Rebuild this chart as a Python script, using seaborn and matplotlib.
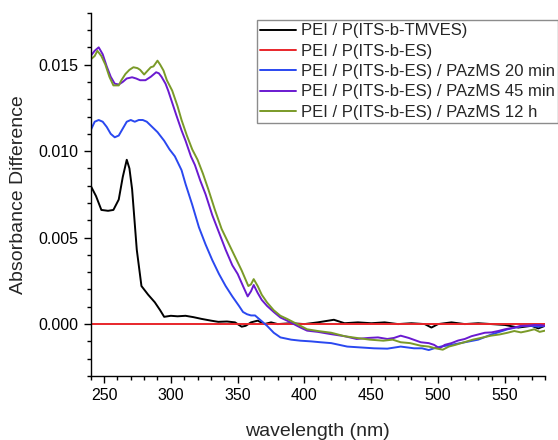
import matplotlib
matplotlib.use("Agg")
import matplotlib.pyplot as plt
import seaborn as sns
import pandas as pd
from matplotlib.ticker import MultipleLocator, FormatStrFormatter

# ---------------- data ----------------
labels = [
    "PEI / P(ITS-b-TMVES)",
    "PEI / P(ITS-b-ES)",
    "PEI / P(ITS-b-ES) / PAzMS 20 min",
    "PEI / P(ITS-b-ES) / PAzMS 45 min",
    "PEI / P(ITS-b-ES) / PAzMS 12 h",
]
colors = ["#000000", "#e8262b", "#2a48f0", "#6a1ad0", "#7a9a28"]

black_w = [240, 244, 248, 253, 257, 261, 264, 267, 269, 271, 274.5, 278, 283, 288, 292, 295, 300, 305, 311,
           317, 323, 330, 335.5, 342, 348, 353, 356, 360, 365, 370, 375, 380, 390, 400, 410, 422, 430, 440,
           450, 460, 470, 480, 490, 495, 500, 510, 520, 530, 540, 550, 560, 570, 575, 580]
black_v = [0.0080, 0.0074, 0.0066, 0.00655, 0.0066, 0.0072, 0.0085, 0.0095, 0.0090, 0.0078, 0.0043, 0.0022,
           0.0017, 0.00126, 0.0008, 0.00042, 0.00048, 0.00045, 0.00048, 0.0004, 0.0003, 0.0002, 0.00013,
           0.00015, 0.0001, -0.00015, -0.0001, 0.0001, 0.0002, 0.0, 0.0001, 0.0, 0.00005, 0.0, 0.0001,
           0.00025, 0.00005, 0.0001, 0.00005, 0.0001, 0.0, 0.00005, 0.0, -0.0002, 0.0, 0.0001, 0.0, 0.00005,
           0.0, -0.00005, -0.0002, -0.0001, -0.00025, -0.0001]

red_w = [240, 580]
red_v = [0.0, 0.0]

blue_w = [240, 243, 246, 249, 252, 255, 258, 261, 264, 267, 270, 273, 276, 279, 282, 286, 290, 295, 299, 303,
          308, 311, 316, 321, 326, 331, 336, 341, 346, 351, 354, 357, 360, 363, 366, 369, 372, 377, 382, 390,
          397, 405, 412, 420, 432, 442, 452, 462, 472, 482, 488, 493, 497, 502, 510, 520, 530, 540, 546, 552,
          558, 564, 569, 575, 580]
blue_v = [0.0112, 0.0117, 0.0118, 0.0117, 0.0114, 0.0110, 0.0108, 0.0109, 0.0113, 0.0117, 0.0118, 0.0117,
          0.0118, 0.0118, 0.0117, 0.0114, 0.0111, 0.0106, 0.0101, 0.0097, 0.0089, 0.0081, 0.0069, 0.0056,
          0.0046, 0.0037, 0.0029, 0.0022, 0.0016, 0.00105, 0.0007, 0.00057, 0.0005, 0.0005, 0.0003, 0.0001,
          -0.0001, -0.0005, -0.00077, -0.0009, -0.00096, -0.0010, -0.00105, -0.0011, -0.0013, -0.00135,
          -0.0014, -0.00142, -0.0013, -0.0014, -0.0014, -0.0015, -0.0014, -0.0013, -0.0012, -0.00105, -0.0009,
          -0.0006, -0.00045, -0.0003, -0.0002, -0.0001, -0.0001, -0.00015, -0.0001]

purple_w = [240, 243, 246, 249, 252, 255, 258, 261, 264, 267, 271, 274, 277, 281, 285, 289, 291, 293, 296, 298,
            301, 304, 308, 311, 315, 318, 322, 326, 331, 336, 341, 346, 350, 354, 357.5, 360, 362, 365, 368,
            372, 377, 382, 387, 392, 397, 402, 410, 419, 430, 439, 448, 455, 462, 467, 472, 478, 487, 493, 497,
            501, 505, 510, 515, 520, 525, 530, 535, 540, 545, 550, 557, 562, 567, 572, 577, 580]
purple_v = [0.0155, 0.0158, 0.0160, 0.0156, 0.0149, 0.0143, 0.0139, 0.01385, 0.0140, 0.0142, 0.01427, 0.0142,
            0.0141, 0.0141, 0.0143, 0.01456, 0.0145, 0.0143, 0.0139, 0.0135, 0.0128, 0.0121, 0.0112, 0.0106,
            0.0097, 0.0092, 0.0083, 0.0075, 0.0063, 0.0053, 0.0043, 0.0034, 0.0029, 0.0022, 0.0016, 0.0019,
            0.00226, 0.0018, 0.0014, 0.00105, 0.0007, 0.00038, 0.0002, 0.0, -0.0002, -0.00038, -0.00045,
            -0.00057, -0.0007, -0.00086, -0.0008, -0.00077, -0.00086, -0.0008, -0.00067, -0.0008, -0.00105,
            -0.0011, -0.0012, -0.0014, -0.0012, -0.0011, -0.00095, -0.00086, -0.0007, -0.0006, -0.0005,
            -0.00048, -0.0004, -0.0003, -0.0002, -0.0001, -0.0001, -0.00005, -0.00006, -0.0001]

green_w = [240, 243, 245, 248, 251, 254, 257, 261, 263, 266, 269, 272, 275, 277, 280, 282, 285, 287, 290, 292,
           294.5, 297, 301, 305, 308, 312, 316, 320, 324, 328, 333, 338, 343, 348, 353, 358, 360, 362, 365, 368,
           372, 377, 382, 387, 392, 397, 402, 410, 420, 430, 439, 449, 459, 466, 472, 479, 487, 493, 498, 503.5,
           508, 513, 519.5, 526, 532, 539.5, 546, 552, 557, 562, 567, 572, 576, 580]
green_v = [0.0153, 0.0155, 0.0158, 0.0155, 0.0150, 0.0143, 0.0138, 0.0138, 0.0141, 0.01446, 0.0147, 0.01485,
           0.0148, 0.0147, 0.01443, 0.0146, 0.01485, 0.0149, 0.01523, 0.0150, 0.01466, 0.0141, 0.0135, 0.0126,
           0.0118, 0.0109, 0.0101, 0.0095, 0.0087, 0.0078, 0.0066, 0.0055, 0.0047, 0.0039, 0.0031, 0.0022,
           0.0023, 0.0026, 0.0022, 0.0017, 0.00125, 0.0008, 0.00048, 0.0003, 0.0001, -0.0001, -0.0003,
           -0.0004, -0.0005, -0.0007, -0.0008, -0.0009, -0.00096, -0.0009, -0.00105, -0.0011, -0.00125,
           -0.0013, -0.0014, -0.00148, -0.0013, -0.0012, -0.00105, -0.0009, -0.0008, -0.00067, -0.0006,
           -0.0005, -0.0004, -0.00048, -0.0004, -0.0003, -0.00045, -0.00038]

x_ticks = [250, 300, 350, 400, 450, 500, 550]
y_ticks = [0.000, 0.005, 0.010, 0.015]

# ---------------- plotting ----------------
sns.set_style("ticks")
plt.rcParams["font.family"] = ["Liberation Sans", "DejaVu Sans"]

fig = plt.figure(figsize=(5.58, 4.40), dpi=100)
ax = fig.add_axes([0.1625, 0.1455, 0.8142, 0.8255])

series = [(black_w, black_v), (red_w, red_v), (blue_w, blue_v), (purple_w, purple_v), (green_w, green_v)]
for (w, v), lab, col in zip(series, labels, colors):
    df = pd.DataFrame({"wavelength": w, "absdiff": v})
    sns.lineplot(data=df, x="wavelength", y="absdiff", ax=ax, color=col, lw=1.4,
                 label=lab, sort=False, estimator=None)

ax.set_xlim(240, 580)
ax.set_ylim(-0.003, 0.018)
ax.set_xticks(x_ticks)
ax.set_yticks(y_ticks)
ax.xaxis.set_minor_locator(MultipleLocator(10))
ax.yaxis.set_minor_locator(MultipleLocator(0.001))
ax.yaxis.set_major_formatter(FormatStrFormatter("%.3f"))
ax.tick_params(axis="both", which="major", direction="out", length=5, width=1, labelsize=11.5,
               colors="black", pad=4)
ax.tick_params(axis="both", which="minor", direction="out", length=3, width=1, colors="black")

for s in ["top", "right"]:
    ax.spines[s].set_visible(False)
for s in ["left", "bottom"]:
    ax.spines[s].set_color("black")
    ax.spines[s].set_linewidth(1.0)

ax.set_xlabel("wavelength (nm)", fontsize=14, labelpad=14)
ax.set_ylabel("Absorbance Difference", fontsize=14, labelpad=8)

leg = ax.legend(loc="upper left", bbox_to_anchor=(0.366, 0.98), fontsize=12, frameon=True,
                fancybox=False, edgecolor="#8c8c8c", framealpha=1, borderpad=0.2,
                handlelength=2.15, handletextpad=0.3, labelspacing=0.32, borderaxespad=0)
leg.get_frame().set_linewidth(1.0)

fig.savefig("out.png", dpi=100)
